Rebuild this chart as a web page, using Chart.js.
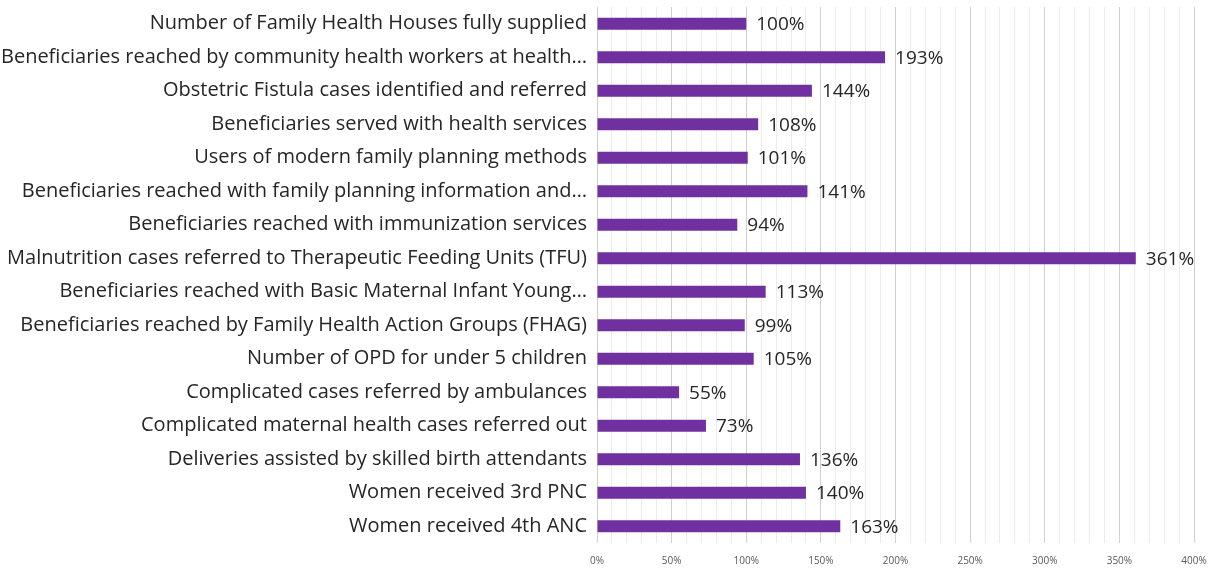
<!DOCTYPE html>
<html>
<head>
<meta charset="utf-8">
<script src="https://cdn.jsdelivr.net/npm/chart.js@4"></script>
<style>
  html, body { margin: 0; padding: 0; background: #fff; }
  #wrap { width: 1211px; height: 569px; }
</style>
</head>
<body>
<div id="wrap"><canvas id="barChart"></canvas></div>
<script>
// indicator names, top to bottom as in the picture
const categories = [
    'Number of Family Health Houses fully supplied',
    'Beneficiaries reached by community health workers at health…',
    'Obstetric Fistula cases identified and referred',
    'Beneficiaries served with health services',
    'Users of modern family planning methods',
    'Beneficiaries reached with family planning information and…',
    'Beneficiaries reached with immunization services',
    'Malnutrition cases referred to Therapeutic Feeding Units (TFU)',
    'Beneficiaries reached with Basic Maternal Infant Young…',
    'Beneficiaries reached by Family Health Action Groups (FHAG)',
    'Number of OPD for under 5 children',
    'Complicated cases referred by ambulances',
    'Complicated maternal health cases referred out',
    'Deliveries assisted by skilled birth attendants',
    'Women received 3rd PNC',
    'Women received 4th ANC'
];

// achievement in percent
const achievement = [100, 193, 144, 108, 101, 141, 94, 361, 113, 99, 105, 55, 73, 136, 140, 163];

// x axis
const xMin = 0;
const xMax = 400;
const xStep = 10;
const xLabelEvery = 50;

const fontFamily = '"Open Sans", sans-serif';

// labels at bar ends
const valueLabels = {
    id: 'valueLabels',
    afterDatasetsDraw(chart) {
        const ctx = chart.ctx;
        const meta = chart.getDatasetMeta(0);
        ctx.save();
        ctx.font = '19px ' + fontFamily;
        ctx.fillStyle = '#262626';
        ctx.textAlign = 'left';
        ctx.textBaseline = 'middle';
        meta.data.forEach((bar, i) => {
            ctx.fillText(achievement[i] + '%', bar.x + 10, bar.y + 1);
        });
        ctx.restore();
    }
};

const barCtx = document.getElementById('barChart').getContext('2d');
new Chart(barCtx, {
    type: 'bar',
    data: {
        labels: categories,
        datasets: [
            {
                label: 'Achievement',
                data: achievement,
                backgroundColor: '#7030A0',
                borderWidth: 0,
                categoryPercentage: 1,
                barPercentage: 0.36
            }
        ]
    },
    options: {
        indexAxis: 'y',
        responsive: true,
        maintainAspectRatio: false,
        animation: false,
        layout: {
            padding: { top: 7, right: 17, left: 0, bottom: 0 }
        },
        plugins: {
            legend: { display: false },
            tooltip: { enabled: false }
        },
        scales: {
            x: {
                min: xMin,
                max: xMax,
                border: { display: false },
                grid: {
                    drawTicks: false,
                    color: (c) => (c.tick && c.tick.value % xLabelEvery === 0) ? '#d0d0d0' : '#ececec',
                    lineWidth: 1
                },
                afterFit: (scale) => {
                    scale.height = 26;
                    scale.paddingLeft = 0;
                    scale.paddingRight = 0;
                },
                ticks: {
                    stepSize: xStep,
                    autoSkip: false,
                    maxRotation: 0,
                    padding: 12,
                    color: '#595959',
                    font: { family: fontFamily, size: 10 },
                    callback: (v) => v % xLabelEvery === 0 ? v + '%' : ''
                }
            },
            y: {
                border: { display: false },
                grid: { display: false, drawTicks: false },
                afterFit: (scale) => {
                    scale.width = 597;
                    scale.paddingTop = 0;
                    scale.paddingBottom = 0;
                },
                ticks: {
                    padding: 10,
                    color: '#262626',
                    font: { family: fontFamily, size: 20 }
                }
            }
        }
    },
    plugins: [valueLabels]
});
</script>
</body>
</html>
